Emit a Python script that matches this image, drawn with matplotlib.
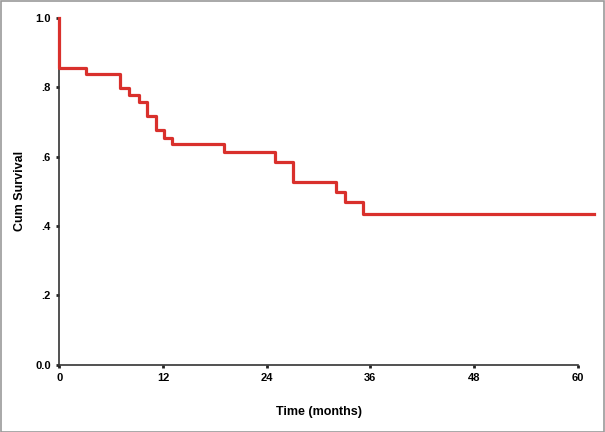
import numpy as np
import matplotlib
matplotlib.use('Agg')
import matplotlib.pyplot as plt
from matplotlib import rcParams
from matplotlib.patches import Rectangle

rcParams['font.family'] = ['Liberation Sans', 'DejaVu Sans']
rcParams['font.weight'] = 'bold'

# Kaplan-Meier step data
times = [0, 0, 3.1, 7.0, 8.1, 9.2, 10.2, 11.2, 12.1, 13.1, 19.1, 25.0, 27.0, 32.0, 33.1, 35.1, 61.9]
surv = [1.0, 0.856, 0.839, 0.798, 0.777, 0.757, 0.718, 0.678, 0.655, 0.636, 0.615, 0.584, 0.528, 0.499, 0.470, 0.435, 0.435]

xticks = [0, 12, 24, 36, 48, 60]
yticks = [0.0, 0.2, 0.4, 0.6, 0.8, 1.0]
yticklabels = ['0.0', '.2', '.4', '.6', '.8', '1.0']

fig = plt.figure(figsize=(6.05, 4.32), dpi=100)
ax = fig.add_axes([0.098, 0.156, 0.857, 0.802])

ax.step(times, surv, where='post', color='#d9302c', lw=2.3, clip_on=False, zorder=3)

ax.set_xlim(0, 60)
ax.set_ylim(0, 1.0)
ax.set_xticks(xticks)
ax.set_yticks(yticks)
ax.set_yticklabels(yticklabels)
ax.tick_params(length=2, width=2, pad=4, labelsize=8, color='#222222')
for lab in ax.get_xticklabels() + ax.get_yticklabels():
    lab.set_fontweight('bold')

for s in ['top', 'right']:
    ax.spines[s].set_visible(False)
for s in ['left', 'bottom']:
    ax.spines[s].set_linewidth(1.2)
    ax.spines[s].set_color('#333333')

ax.set_xlabel('Time (months)', fontsize=9, fontweight='bold')
ax.set_ylabel('Cum Survival', fontsize=9, fontweight='bold')
ax.xaxis.set_label_coords(0.5, -0.12)
ax.yaxis.set_label_coords(-0.065, 0.5)

# gray frame around the whole picture
fig.patches.append(Rectangle((0.001, 0.001), 0.997, 0.997, transform=fig.transFigure,
                             fill=False, edgecolor='#999999', lw=1.2))

plt.savefig('out.png', dpi=100)
